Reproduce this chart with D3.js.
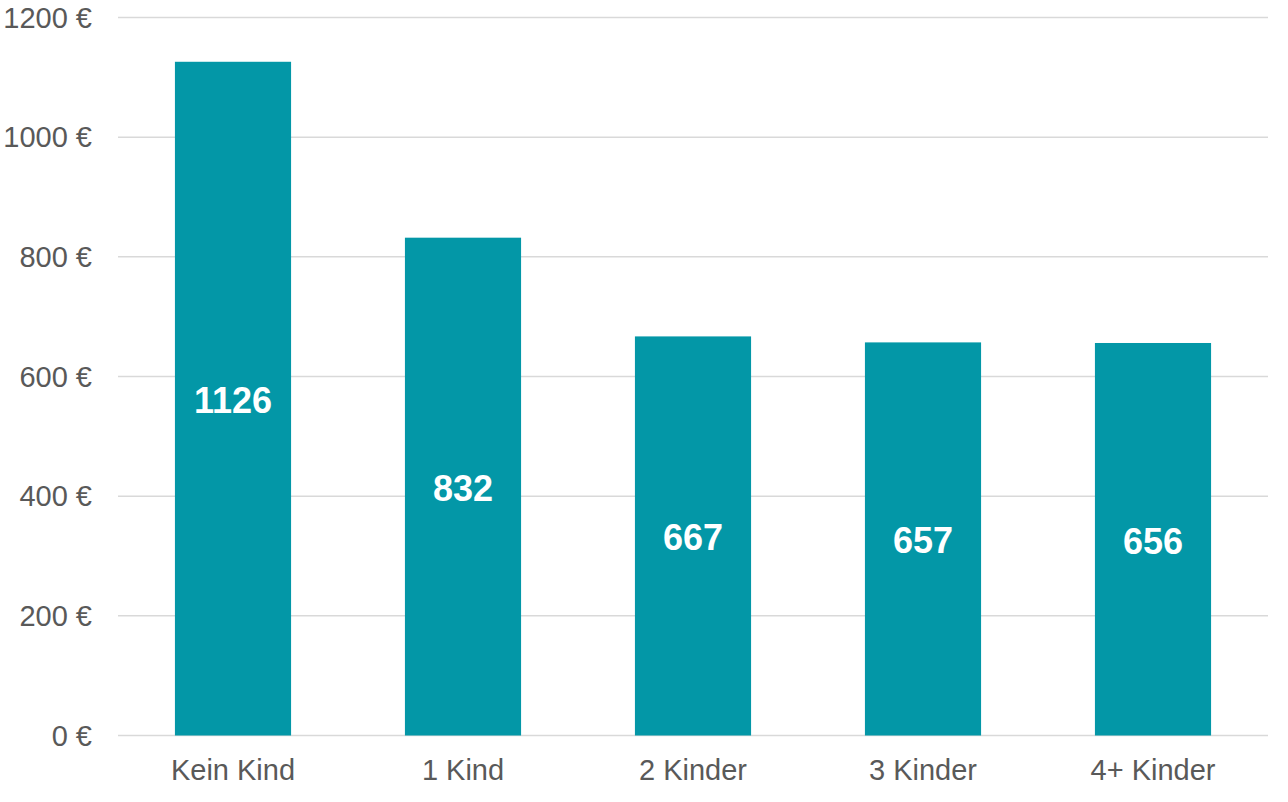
<!DOCTYPE html>
<html>
<head>
<meta charset="utf-8">
<script src="https://cdn.jsdelivr.net/npm/d3@7"></script>
<style>
  html, body { margin: 0; padding: 0; background: #fff; }
  svg { display: block; font-family: "Liberation Sans", Arial, sans-serif; }
</style>
</head>
<body>
<svg id="chart" width="1288" height="802"></svg>
<script>
const categories = ["Kein Kind", "1 Kind", "2 Kinder", "3 Kinder", "4+ Kinder"];
const values = [1126, 832, 667, 657, 656];
const yTicks = [0, 200, 400, 600, 800, 1000, 1200];

const svg = d3.select("#chart");
const plotLeft = 118, plotRight = 1268, plotTop = 17.5, plotBottom = 735.5;

const x = d3.scaleBand().domain(categories).range([plotLeft, plotRight]).paddingInner(0.495).paddingOuter(0.2475);
const y = d3.scaleLinear().domain([0, 1200]).range([plotBottom, plotTop]);

// gridlines
svg.append("g").selectAll("line").data(yTicks).join("line")
  .attr("x1", plotLeft).attr("x2", plotRight)
  .attr("y1", d => y(d)).attr("y2", d => y(d))
  .attr("stroke", "#d9d9d9").attr("stroke-width", 1.5);

// y tick labels
svg.append("g").selectAll("text").data(yTicks).join("text")
  .attr("x", 92).attr("y", d => y(d))
  .attr("text-anchor", "end").attr("dominant-baseline", "central")
  .attr("font-size", 29).attr("fill", "#595959")
  .text(d => d + " €");

// bars
svg.append("g").selectAll("rect").data(values).join("rect")
  .attr("x", (d, i) => x(categories[i]))
  .attr("width", x.bandwidth())
  .attr("y", d => y(d))
  .attr("height", d => y(0) - y(d))
  .attr("fill", "#0397a7");

// value labels
svg.append("g").selectAll("text").data(values).join("text")
  .attr("x", (d, i) => x(categories[i]) + x.bandwidth() / 2)
  .attr("y", d => (y(d) + y(0)) / 2 + 2)
  .attr("text-anchor", "middle").attr("dominant-baseline", "central")
  .attr("font-size", 36).attr("font-weight", "bold").attr("fill", "#fff")
  .text(d => d);

// x labels
svg.append("g").selectAll("text").data(categories).join("text")
  .attr("x", d => x(d) + x.bandwidth() / 2)
  .attr("y", 770)
  .attr("text-anchor", "middle").attr("dominant-baseline", "central")
  .attr("font-size", 29).attr("fill", "#595959")
  .text(d => d);
</script>
</body>
</html>
